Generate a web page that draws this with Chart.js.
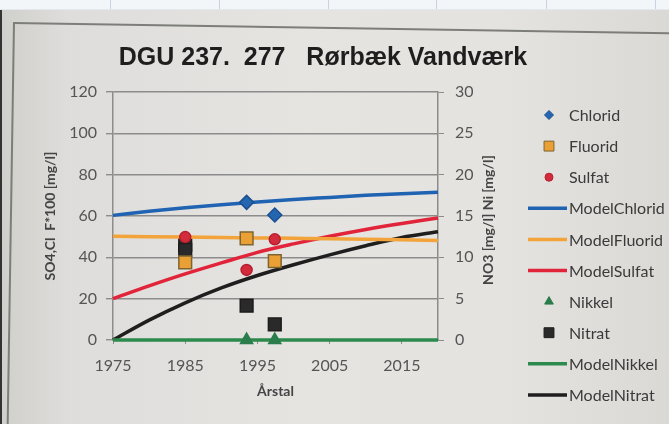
<!DOCTYPE html>
<html lang="da">
<head>
    <meta charset="UTF-8">
    <title>DGU 237. 277 Rørbæk Vandværk</title>
    <style>
        html, body {
            margin: 0;
            padding: 0;
            width: 669px;
            height: 424px;
            overflow: hidden;
        }
        body {
            position: relative;
            background: linear-gradient(90deg, #cfcfcb 0%, #dedddb 10%, #e5e4e1 45%, #e4e3e0 75%, #dad9d5 100%);
        }
        .topstrip {
            position: absolute;
            left: 0; top: 0;
            width: 669px; height: 9px;
            background: #f3f6f9;
            border-bottom: 1px solid #e2e8ee;
        }
        .sep {
            position: absolute;
            top: 0; width: 1px; height: 9px;
            background: #c9d3dd;
        }
        .edge {
            position: absolute;
            left: 0; top: 10px;
            width: 2px; height: 414px;
            background: #333;
        }
        .frame {
            position: absolute;
            left: 13px; top: 22px;
            width: 700px; height: 430px;
            border-top: 2px solid #7d7d7a;
            border-left: 2px solid #7d7d7a;
            transform-origin: 0 0;
            transform: rotate(0.9deg);
        }
        canvas {
            position: absolute;
            left: 0; top: 0;
        }
    </style>
</head>
<body>
    <div class="topstrip">
        <div class="sep" style="left:110px"></div>
        <div class="sep" style="left:219px"></div>
        <div class="sep" style="left:328px"></div>
        <div class="sep" style="left:436px"></div>
        <div class="sep" style="left:546px"></div>
        <div class="sep" style="left:655px"></div>
    </div>
    <div class="edge"></div>
    <div class="frame"></div>
    <canvas id="chart" width="669" height="424"></canvas>

    <script src="https://cdn.jsdelivr.net/npm/chart.js@4"></script>
    <script>
        // aflæste værdier
        const titleText = 'DGU 237.  277   Rørbæk Vandværk';
        const xTicks = [1975, 1985, 1995, 2005, 2015];

        // målinger (Fluorid er ganget med 100)
        const chloridYears = [1993.5, 1997.4];
        const chloridValues = [66.6, 60.5];
        const fluoridYears = [1985, 1993.5, 1997.4];
        const fluoridValues = [37.6, 49.2, 38.2];
        const sulfatYears = [1985, 1993.5, 1997.4];
        const sulfatValues = [49.8, 33.9, 48.7];
        const nikkelYears = [1993.5, 1997.4];
        const nikkelValues = [0, 0];
        const nitratYears = [1985, 1985, 1993.5, 1997.4];
        const nitratValues = [11.5, 10.9, 4.15, 1.9];

        // modelkurver
        const modelYears = [1975, 1980, 1985, 1990, 1995, 2000, 2005, 2010, 2015, 2020];
        const modelChlorid = [60.3, 62.3, 64.0, 65.5, 66.8, 68.0, 69.0, 70.0, 70.8, 71.5];
        const modelFluorid = [50.2, 50.0, 49.8, 49.6, 49.4, 49.2, 49.0, 48.7, 48.5, 48.2];
        const modelSulfat = [20.0, 26.2, 32.0, 37.3, 42.4, 46.5, 50.2, 53.5, 56.4, 59.0];
        const modelNikkel = [0, 0, 0, 0, 0, 0, 0, 0, 0, 0];
        const modelNitrat = [0, 2.4, 4.5, 6.3, 7.8, 9.1, 10.3, 11.4, 12.4, 13.1];

        const FONT = 'Lato, "Liberation Sans", sans-serif';

        function pts(xs, ys) {
            return xs.map((x, i) => ({ x: x, y: ys[i] }));
        }

        function marks(label, xs, ys, style, radius, fill, border, axis, legendRadius) {
            return {
                label: label,
                data: pts(xs, ys),
                yAxisID: axis,
                showLine: false,
                clip: false,
                pointStyle: style,
                pointRadius: radius,
                pointHoverRadius: radius,
                pointBackgroundColor: fill,
                pointBorderColor: border,
                pointBorderWidth: 1.5,
                backgroundColor: fill,
                borderColor: border,
                legendRadius: legendRadius
            };
        }

        function model(label, ys, color, axis) {
            return {
                label: label,
                data: pts(modelYears, ys),
                yAxisID: axis,
                showLine: true,
                clip: false,
                borderColor: color,
                backgroundColor: color,
                borderWidth: 3.5,
                pointRadius: 0,
                pointHoverRadius: 0,
                cubicInterpolationMode: 'monotone'
            };
        }

        const datasets = [
            marks('Chlorid', chloridYears, chloridValues, 'rectRot', 7, '#2566b0', '#1b4f8f', 'y', 4.5),
            marks('Fluorid', fluoridYears, fluoridValues, 'rect', 9, '#eaa034', '#7e6431', 'y', 7),
            marks('Sulfat', sulfatYears, sulfatValues, 'circle', 5.5, '#d32a3c', '#b51f30', 'y', 4),
            model('ModelChlorid', modelChlorid, '#1f63b2', 'y'),
            model('ModelFluorid', modelFluorid, '#f2a33a', 'y'),
            model('ModelSulfat', modelSulfat, '#e2243a', 'y'),
            marks('Nikkel', nikkelYears, nikkelValues, 'triangle', 7, '#2b7d4b', '#2b7d4b', 'y2', 5),
            marks('Nitrat', nitratYears, nitratValues, 'rect', 9, '#2a2a2a', '#1c1c1c', 'y2', 7),
            model('ModelNikkel', modelNikkel, '#2b8a4c', 'y2'),
            model('ModelNitrat', modelNitrat, '#1e1e1e', 'y2')
        ];

        // titel, højre aksetitel og forklaring tegnes her
        const extras = {
            id: 'extras',
            afterDraw(chart) {
                const ctx = chart.ctx;
                ctx.save();
                ctx.fillStyle = '#1e1e1e';
                ctx.font = 'bold 25px "Liberation Sans", Arial, sans-serif';
                ctx.textAlign = 'center';
                ctx.textBaseline = 'alphabetic';
                ctx.fillText(titleText, 323, 65);

                ctx.save();
                ctx.translate(488, 220);
                ctx.rotate(-Math.PI / 2);
                ctx.fillStyle = '#444';
                ctx.font = 'bold 14px ' + FONT;
                ctx.textBaseline = 'middle';
                ctx.fillText('NO3 [mg/l] Ni [mg/l]', 0, 0);
                ctx.restore();

                ctx.textAlign = 'left';
                ctx.textBaseline = 'middle';
                ctx.font = '16px ' + FONT;
                chart.data.datasets.forEach((ds, i) => {
                    const y = 115 + i * 31.1;
                    if (ds.showLine) {
                        ctx.strokeStyle = ds.borderColor;
                        ctx.lineWidth = 3.5;
                        ctx.beginPath();
                        ctx.moveTo(528, y);
                        ctx.lineTo(567, y);
                        ctx.stroke();
                    } else {
                        ctx.fillStyle = ds.pointBackgroundColor;
                        ctx.strokeStyle = ds.pointBorderColor;
                        ctx.lineWidth = 1;
                        Chart.helpers.drawPoint(ctx, {
                            pointStyle: ds.pointStyle,
                            radius: ds.legendRadius,
                            rotation: 0,
                            borderWidth: 1
                        }, 549, y);
                    }
                    ctx.fillStyle = '#3a3a3a';
                    ctx.fillText(ds.label, 569, y + 1);
                });
                ctx.restore();
            }
        };

        new Chart(document.getElementById('chart'), {
            type: 'scatter',
            data: { datasets: datasets },
            plugins: [extras],
            options: {
                responsive: false,
                animation: false,
                layout: {
                    padding: { left: 0, right: 171, top: 92, bottom: 10 }
                },
                plugins: {
                    legend: { display: false },
                    title: { display: false },
                    tooltip: { enabled: false }
                },
                scales: {
                    x: {
                        type: 'linear',
                        min: 1975,
                        max: 2020,
                        afterBuildTicks: s => { s.ticks = xTicks.map(v => ({ value: v })); },
                        afterFit: s => { s.height = 74; },
                        grid: {
                            drawOnChartArea: false,
                            tickLength: 4,
                            color: '#8c8c8c'
                        },
                        border: { color: '#8c8c8c', width: 1.5 },
                        ticks: {
                            padding: 12,
                            color: '#555',
                            font: { family: FONT, size: 16 },
                            callback: v => String(v)
                        },
                        title: {
                            display: true,
                            text: 'Årstal',
                            color: '#444',
                            font: { family: FONT, size: 14, weight: 'bold' },
                            padding: { top: 0, bottom: 14 }
                        }
                    },
                    y: {
                        position: 'left',
                        min: 0,
                        max: 120,
                        afterFit: s => { s.width = 113; },
                        ticks: {
                            stepSize: 20,
                            padding: 9,
                            color: '#555',
                            font: { family: FONT, size: 16 }
                        },
                        grid: {
                            color: '#8c8c8c',
                            lineWidth: 1.4,
                            tickLength: 7
                        },
                        border: { color: '#8c8c8c', width: 1.5 },
                        title: {
                            display: true,
                            text: 'SO4,Cl  F*100 [mg/l]',
                            color: '#444',
                            font: { family: FONT, size: 14, weight: 'bold' },
                            padding: { top: 42, bottom: 0 }
                        }
                    },
                    y2: {
                        position: 'right',
                        min: 0,
                        max: 30,
                        afterFit: s => { s.width = 60; },
                        ticks: {
                            stepSize: 5,
                            padding: 11,
                            color: '#555',
                            font: { family: FONT, size: 16 }
                        },
                        grid: {
                            drawOnChartArea: false,
                            color: '#8c8c8c',
                            tickLength: 6
                        },
                        border: { color: '#8c8c8c', width: 1.5 }
                    }
                }
            }
        });
    </script>
</body>
</html>
